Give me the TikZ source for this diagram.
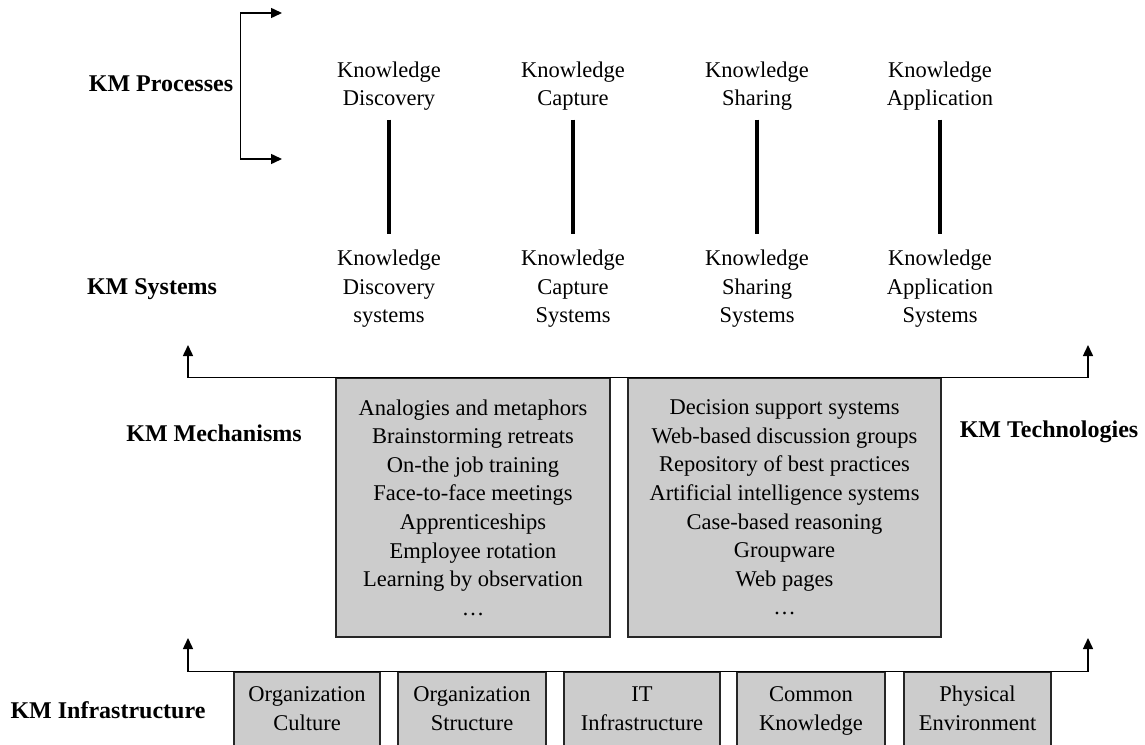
\documentclass[tikz,border=0pt]{standalone}
\usepackage{fontspec}
\setmainfont{Liberation Serif}
\usetikzlibrary{arrows.meta}
\definecolor{boxgray}{RGB}{204,204,204}
\tikzset{
  lbl/.style={font=\fontsize{24}{29}\selectfont\bfseries, inner sep=0pt},
  txt/.style={font=\fontsize{22.5}{28.6}\selectfont, align=center, inner sep=0pt},
  gbox/.style={txt, draw=black!85, line width=1.5pt, fill=boxgray},
  link/.style={line width=4pt},
  wire/.style={line width=1.5pt},
  tip/.tip={Triangle[length=11pt,width=10pt]},
}
\begin{document}
\begin{tikzpicture}[x=1pt,y=-1pt]
	\clip (0,0) rectangle (1145,744);
	%%level labels
	\node[lbl] (procL) at (161,84) {KM Processes};
	\node[lbl] (sysL) at (152,289) {KM Systems};
	\node[lbl] (mechL) at (214,433) {KM Mechanisms};
	\node[lbl] (techL) at (1049,432) {KM Technologies};
	\node[lbl] (infraL) at (108,710) {KM Infrastructure};
	%%bracket
	\coordinate (bt) at (282,13);
	\coordinate (bb) at (282,159);
	\draw[wire, tip-tip] (bt) -| ([xshift=7pt]procL.east) |- (bb);
	%%processes and systems
	\foreach \i/\x/\w/\s in {1/389/Discovery/systems, 2/573/Capture/Systems, 3/757/Sharing/Systems, 4/940/Application/Systems} {
		\node[txt] (p\i) at (\x,86) {Knowledge\\\w};
		\node[txt] (s\i) at (\x,289) {Knowledge\\\w\\\s};
		\draw[link, shorten <=9pt, shorten >=16pt] (p\i.south) -- (s\i.north);
	}
	%%mechanisms and technologies
	\node[gbox, minimum width=274pt, minimum height=259pt] (mech) at (473,507.5)
		{Analogies and metaphors\\Brainstorming retreats\\On-the job training\\Face-to-face meetings\\Apprenticeships\\Employee rotation\\Learning by observation\\\dots};
	\node[gbox, minimum width=313pt, minimum height=259pt] (tech) at (784.5,507.5)
		{Decision support systems\\Web-based discussion groups\\Repository of best practices\\Artificial intelligence systems\\Case-based reasoning\\Groupware\\Web pages\\\dots};
	\coordinate (ml) at (188,345);
	\coordinate (mr) at (1088,345);
	\draw[wire, tip-tip] (ml) |- (mech.north west) -- (tech.north east) -| (mr);
	%%infrastructure
	\foreach \i/\x/\w/\t in {1/307/146/{Organization\\Culture}, 2/472/148/{Organization\\Structure}, 3/642/156/{IT\\Infrastructure}, 4/811/148/{Common\\Knowledge}, 5/977.5/147/{Physical\\Environment}} {
		\node[gbox, minimum width=\w pt, minimum height=76pt] (i\i) at (\x,710) {\strut\t\strut};
	}
	\coordinate (bl) at (188,638);
	\coordinate (br) at (1088,638);
	\draw[wire, tip-tip] (bl) |- (i1.north west) -- (i5.north east) -| (br);
\end{tikzpicture}
\end{document}
